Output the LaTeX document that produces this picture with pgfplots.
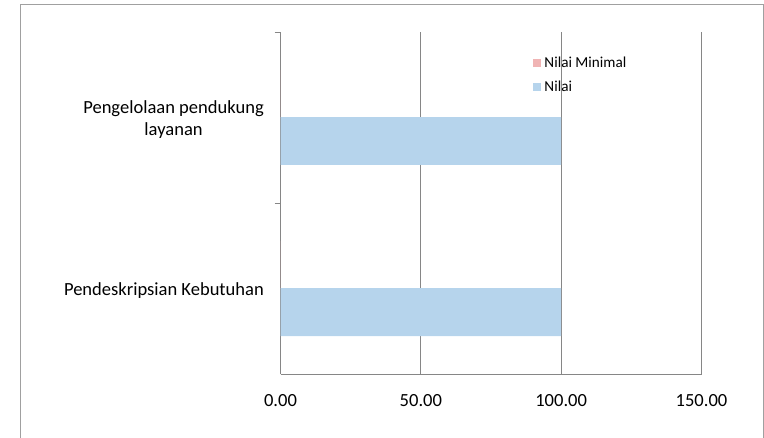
\documentclass[border=0pt]{standalone}
\usepackage{pgfplots}
\pgfplotsset{compat=1.18}
\usepackage{fontspec}
\setmainfont{Carlito}
\definecolor{gridgray}{HTML}{868686}
\definecolor{framegray}{HTML}{A0A0A0}
\definecolor{nilaiblue}{HTML}{B6D4EC}
\definecolor{minpink}{HTML}{F0B4B4}
\begin{document}
\begin{tikzpicture}[x=0.75pt,y=0.75pt]
\useasboundingbox (0,0) rectangle (764,437);
\draw[framegray, line width=0.75pt] (20,-10) -- (20,433) -- (763,433) -- (763,-10);
\begin{axis}[
  at={(210.375pt,47.25pt)}, anchor=south west,
  scale only axis, width=315.75pt, height=256.5pt,
  xmin=0, xmax=150, ymin=-0.5, ymax=1.5,
  axis x line=bottom, axis y line=left,
  axis line style={-, gridgray, line width=0.75pt},
  xtick={0,50,100,150},
  xticklabels={0.00,50.00,100.00,150.00},
  xmajorgrids, grid style={gridgray, line width=0.75pt},
  major tick length=0pt,
  ytick={0,1},
  yticklabels={Pendeskripsian Kebutuhan,{Pengelolaan pendukung\\layanan}},
  minor ytick={0.5,1.5},
  minor tick length=4.5pt,
  tick align=outside,
  minor tick style={gridgray, line width=0.75pt},
  xticklabel style={font=\fontsize{13.9}{16}\selectfont, yshift=-11.5pt},
  yticklabel style={font=\fontsize{13.9}{16.5}\selectfont, align=center, xshift=-9pt, yshift=-1.5pt},
  xbar, bar width=0.2807,
  legend style={at={(0.5985,0.934)}, anchor=north west, draw=none, fill=none,
    font=\fontsize{11.4}{13}\selectfont, row sep=5.5pt, inner sep=0pt,
    nodes={inner xsep=2.8pt, inner ysep=1.5pt}},
  legend cell align=left,
  legend image code/.code={\fill[#1] (0pt,-3pt) rectangle (6pt,3pt);},
]
\addplot[draw=none, fill=minpink, bar shift=0.1374] coordinates {(0,0) (0,1)};
\addlegendentry{Nilai Minimal}
\addplot[draw=none, fill=nilaiblue, bar shift=-0.1374] coordinates {(100,0) (100,1)};
\addlegendentry{Nilai}
\end{axis}
\end{tikzpicture}
\end{document}
